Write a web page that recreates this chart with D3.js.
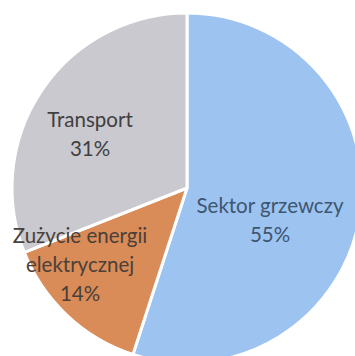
<!DOCTYPE html>
<html><head><meta charset="utf-8">
<script src="https://cdn.jsdelivr.net/npm/d3@7"></script>
<style>html,body{margin:0;padding:0;background:#fff;overflow:hidden}</style>
</head><body>
<svg id="c" width="355" height="356"></svg>
<script>
const categories = ["Sektor grzewczy", "Zużycie energii elektrycznej", "Transport"];
const values = [55, 14, 31];
const labelLines = [["Sektor grzewczy", "55%"], ["Zużycie energii", "elektrycznej", "14%"], ["Transport", "31%"]];
const colors = ["#9dc3f1", "#d98b58", "#c9c9cf"];
const textColors = ["#3e5670", "#4a4038", "#404040"];

const svg = d3.select("#c");
const cx = 187, cy = 188, r = 175;
const g = svg.append("g").attr("transform", `translate(${cx},${cy})`);
const pie = d3.pie().sort(null).value(d => d)(values);
const arc = d3.arc().innerRadius(0).outerRadius(r);
g.selectAll("path").data(pie).join("path")
  .attr("d", arc).attr("fill", (d,i) => colors[i])
  .attr("stroke", "#fff").attr("stroke-width", 3).attr("stroke-linejoin", "round");

// label anchor positions (relative to center) from the reference
const labelPos = [[83, 25], [-107, 55], [-97, -61]];
const lh = 29;
labelLines.forEach((lines, i) => {
  const t = g.append("text").attr("text-anchor", "middle")
    .attr("font-family", "Lato, 'Open Sans', sans-serif").attr("font-size", 20.5)
    .attr("fill", textColors[i]);
  lines.forEach((s, j) => {
    t.append("tspan").attr("x", labelPos[i][0]).attr("y", labelPos[i][1] + j * lh).text(s);
  });
});
</script>
</body></html>
